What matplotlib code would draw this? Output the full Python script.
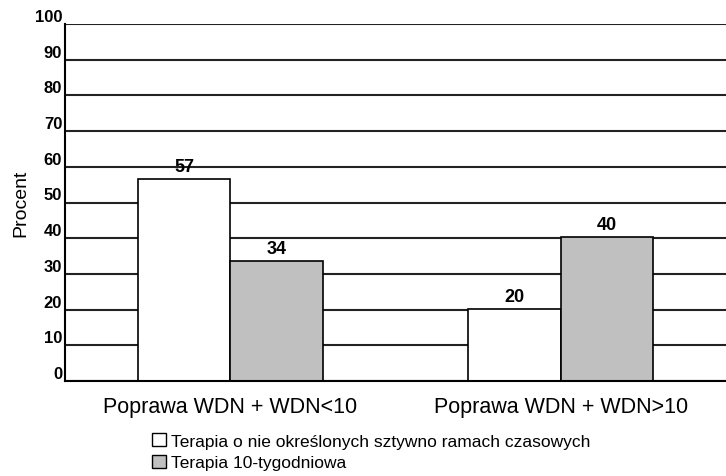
import matplotlib
matplotlib.use("Agg")
import matplotlib.pyplot as plt
from matplotlib.patches import Patch
import numpy as np

plt.rcParams["font.family"] = ["Liberation Sans", "DejaVu Sans"]

categories = ["Poprawa WDN + WDN<10", "Poprawa WDN + WDN>10"]
series_names = ["Terapia o nie określonych sztywno ramach czasowych", "Terapia 10-tygodniowa"]
values_open = [56.6, 20.2]
values_10w = [33.6, 40.3]
bar_labels_open = ["57", "20"]
bar_labels_10w = ["34", "40"]
yticks = list(range(0, 101, 10))

fig = plt.figure(figsize=(7.26, 4.77), dpi=100)
ax = fig.add_axes([65 / 726, 1 - 382 / 477, 661 / 726, 357 / 477])

x = np.arange(len(categories))
w = 0.28
ax.set_axisbelow(True)
ax.yaxis.grid(True, color="#222222", linewidth=1.5)
b1 = ax.bar(x - w / 2, values_open, w, color="white", edgecolor="black", linewidth=1.2)
b2 = ax.bar(x + w / 2, values_10w, w, color="#c0c0c0", edgecolor="black", linewidth=1.2)

for bars, labels in ((b1, bar_labels_open), (b2, bar_labels_10w)):
    for rect, lab in zip(bars, labels):
        ax.text(rect.get_x() + rect.get_width() / 2, rect.get_height() + 1.2, lab,
                ha="center", va="bottom", fontsize=13, fontweight="bold")

ax.set_xlim(-0.5, 1.5)
ax.set_ylim(0, 100)
ax.set_yticks(yticks)
ax.set_yticklabels([str(t) for t in yticks], fontsize=12, fontweight="bold", va="bottom")
ax.set_xticks(x)
ax.set_xticklabels(categories, fontsize=15.5)
ax.tick_params(axis="x", length=0, pad=11)
ax.tick_params(axis="y", length=0, pad=2)
for s in ["top", "right"]:
    ax.spines[s].set_visible(False)
ax.spines["left"].set_linewidth(1.5)
ax.spines["bottom"].set_linewidth(1.5)
ax.set_ylabel("Procent", fontsize=14, labelpad=4)

handles = [Patch(facecolor="white", edgecolor="black", label=series_names[0]),
           Patch(facecolor="#c0c0c0", edgecolor="black", label=series_names[1])]
fig.legend(handles=handles, loc="upper left", bbox_to_anchor=(145 / 726, 1 - 427 / 477),
           frameon=False, fontsize=12.5, handlelength=0.8, handleheight=0.8,
           handletextpad=0.3, labelspacing=0.35, borderaxespad=0)

fig.savefig("out.png", dpi=100)
